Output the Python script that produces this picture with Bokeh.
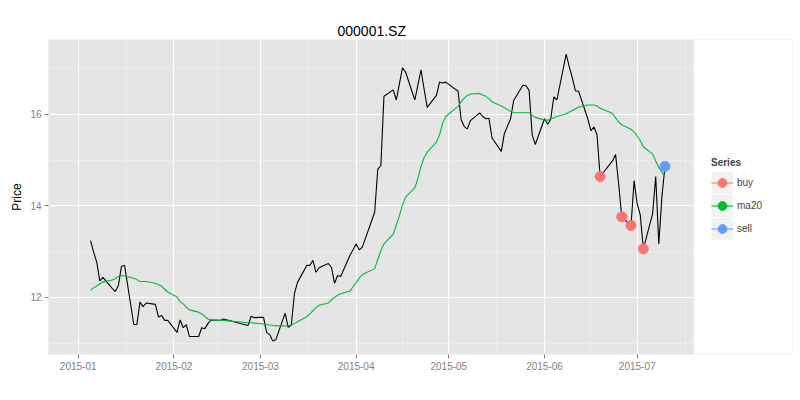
import pandas as pd
from bokeh.plotting import figure
from bokeh.models import (Range1d, FixedTicker, DatetimeTickFormatter, Legend,
                          LegendItem, BoxAnnotation)
from bokeh.embed import file_html
from bokeh.resources import INLINE

FONT = "Liberation Sans"

dates = [
    "2015-01-05", "2015-01-06", "2015-01-07", "2015-01-08", "2015-01-09",
    "2015-01-12", "2015-01-13", "2015-01-14", "2015-01-15", "2015-01-16",
    "2015-01-19", "2015-01-20", "2015-01-21", "2015-01-22", "2015-01-23",
    "2015-01-26", "2015-01-27", "2015-01-28", "2015-01-29", "2015-01-30",
    "2015-02-02", "2015-02-03", "2015-02-04", "2015-02-05", "2015-02-06",
    "2015-02-09", "2015-02-10", "2015-02-11", "2015-02-12", "2015-02-13",
    "2015-02-16", "2015-02-17", "2015-02-25", "2015-02-26", "2015-02-27",
    "2015-03-02", "2015-03-03", "2015-03-04", "2015-03-05", "2015-03-06",
    "2015-03-09", "2015-03-10", "2015-03-11", "2015-03-12", "2015-03-13",
    "2015-03-16", "2015-03-17", "2015-03-18", "2015-03-19", "2015-03-20",
    "2015-03-23", "2015-03-24", "2015-03-25", "2015-03-26", "2015-03-27",
    "2015-03-30", "2015-03-31", "2015-04-01", "2015-04-02", "2015-04-03",
    "2015-04-07", "2015-04-08", "2015-04-09", "2015-04-10",
    "2015-04-13", "2015-04-14", "2015-04-15", "2015-04-16", "2015-04-17",
    "2015-04-20", "2015-04-21", "2015-04-22", "2015-04-23", "2015-04-24",
    "2015-04-27", "2015-04-28", "2015-04-29", "2015-04-30",
    "2015-05-04", "2015-05-05", "2015-05-06", "2015-05-07", "2015-05-08",
    "2015-05-11", "2015-05-12", "2015-05-13", "2015-05-14", "2015-05-15",
    "2015-05-18", "2015-05-19", "2015-05-20", "2015-05-21", "2015-05-22",
    "2015-05-25", "2015-05-26", "2015-05-27", "2015-05-28", "2015-05-29",
    "2015-06-01", "2015-06-02", "2015-06-03", "2015-06-04", "2015-06-05",
    "2015-06-08", "2015-06-09", "2015-06-10", "2015-06-11", "2015-06-12",
    "2015-06-15", "2015-06-16", "2015-06-17", "2015-06-18", "2015-06-19",
    "2015-06-23", "2015-06-24", "2015-06-25", "2015-06-26",
    "2015-06-29", "2015-06-30", "2015-07-01", "2015-07-02", "2015-07-03",
    "2015-07-06", "2015-07-07", "2015-07-08", "2015-07-09", "2015-07-10",
]

close = [
    13.24, 12.99, 12.77, 12.36, 12.44,
    12.20, 12.13, 12.26, 12.68, 12.70,
    11.41, 11.41, 11.90, 11.80, 11.88,
    11.85, 11.57, 11.61, 11.50, 11.50,
    11.24, 11.51, 11.34, 11.41, 11.15,
    11.15, 11.34, 11.32, 11.43, 11.51,
    11.50, 11.53, 11.39, 11.59, 11.56,
    11.57, 11.24, 11.19, 11.05, 11.08,
    11.66, 11.35, 11.40, 12.08, 12.33,
    12.70, 12.70, 12.81, 12.55, 12.65,
    12.74, 12.66, 12.31, 12.48, 12.46,
    12.92, 13.04, 13.17, 13.04, 13.10,
    13.86, 14.80, 14.88, 16.39,
    16.53, 16.31, 16.66, 17.01, 16.92,
    16.31, 16.64, 16.97, 16.55, 16.15,
    16.41, 16.70, 16.68, 16.70,
    16.50, 15.88, 15.73, 15.68, 15.86,
    16.03, 15.95, 15.90, 15.91, 15.48,
    15.19, 15.58, 15.74, 15.90, 16.30,
    16.63, 16.62, 16.52, 15.55, 15.34,
    15.90, 15.78, 15.89, 16.38, 16.31,
    17.31, 17.04, 16.79, 16.51, 16.50,
    15.90, 15.64, 15.72, 15.55, 14.64,
    14.98, 15.12, 14.48, 13.76,
    13.57, 14.55, 14.05, 13.80, 13.06,
    13.83, 14.64, 13.17, 14.20, 14.86,
]

ma20 = [
    12.16, 12.21, 12.25, 12.30, 12.34,
    12.38, 12.41, 12.46, 12.48, 12.47,
    12.42, 12.39, 12.35, 12.35, 12.35,
    12.31, 12.28, 12.25, 12.18, 12.12,
    12.01, 11.91, 11.86, 11.79, 11.73,
    11.68, 11.64, 11.59, 11.53, 11.51,
    11.50, 11.50, 11.45, 11.45, 11.44,
    11.42, 11.41, 11.40, 11.39, 11.38,
    11.38, 11.38, 11.40, 11.43, 11.47,
    11.58, 11.64, 11.71, 11.78, 11.83,
    11.88, 11.95, 12.00, 12.05, 12.08,
    12.14, 12.24, 12.33, 12.42, 12.50,
    12.63, 12.83, 13.02, 13.17,
    13.38, 13.58, 13.78, 14.02, 14.19,
    14.39, 14.60, 14.86, 15.05, 15.17,
    15.39, 15.55, 15.80, 15.95,
    16.17, 16.27, 16.35, 16.41, 16.44,
    16.45, 16.42, 16.39, 16.34, 16.27,
    16.18, 16.14, 16.10, 16.06, 16.03,
    16.03, 16.03, 16.03, 15.98, 15.93,
    15.87, 15.87, 15.90, 15.92, 15.95,
    16.01, 16.05, 16.08, 16.12, 16.15,
    16.20, 16.20, 16.20, 16.18, 16.13,
    16.02, 15.92, 15.83, 15.77,
    15.67, 15.61, 15.52, 15.42, 15.29,
    15.13, 14.98, 14.84, 14.74, 14.64,
]

buy_dates = ["2015-06-19", "2015-06-26", "2015-06-29", "2015-07-03"]
buy_price = [14.64, 13.76, 13.57, 13.06]
sell_dates = ["2015-07-10"]
sell_price = [14.86]

x_tick_dates = ["2015-01-01", "2015-02-01", "2015-03-01", "2015-04-01",
                "2015-05-01", "2015-06-01", "2015-07-01"]
month_starts = ["2014-12-01"] + x_tick_dates + ["2015-08-01"]
y_ticks = [12, 14, 16]
y_minor = [11, 13, 15, 17]

series_labels = ["buy", "ma20", "sell"]
series_colors = ["#F8766D", "#00BA38", "#619CFF"]


def ms(t):
    return pd.Timestamp(t).value / 1e6


x_dt = pd.to_datetime(dates)
buy_dt = pd.to_datetime(buy_dates)
sell_dt = pd.to_datetime(sell_dates)

x_major = [ms(s) for s in x_tick_dates]
ms_all = [ms(s) for s in month_starts]
x_minor = [(a + b) / 2 for a, b in zip(ms_all[:-1], ms_all[1:])]

# panel (grey area) limits, and the frame extended to the right for the legend
x_start = pd.Timestamp("2015-01-01") - pd.Timedelta(days=9.62)
x_panel_end = pd.Timestamp("2015-07-01") + pd.Timedelta(days=18.33)
x_frame_end = pd.Timestamp("2015-07-01") + pd.Timedelta(days=50.29)

p = figure(width=800, height=400, x_axis_type="datetime",
           x_range=Range1d(x_start, x_frame_end), y_range=Range1d(10.756, 17.63),
           output_backend="svg", toolbar_location=None,
           min_border_left=48, min_border_right=8,
           min_border_top=39, min_border_bottom=46,
           background_fill_color="#E5E5E5", border_fill_color="white",
           title="000001.SZ")
p.outline_line_color = None

p.title.align = "left"
p.title.offset = 289
p.title.text_font = FONT
p.title.text_font_size = "14px"
p.title.text_font_style = "normal"
p.title.text_color = "black"
p.title.standoff = 1

xt = FixedTicker(ticks=x_major, minor_ticks=x_minor)
yt = FixedTicker(ticks=y_ticks, minor_ticks=y_minor)
p.xaxis.ticker = xt
p.yaxis.ticker = yt
p.xgrid.ticker = xt
p.ygrid.ticker = yt
fmt = "%Y-%m"
p.xaxis.formatter = DatetimeTickFormatter(
    microseconds=fmt, milliseconds=fmt, seconds=fmt, minsec=fmt, minutes=fmt,
    hourmin=fmt, hours=fmt, days=fmt, months=fmt, years=fmt,
    strip_leading_zeros=False)

for g in (p.xgrid, p.ygrid):
    g.grid_line_color = "white"
    g.grid_line_width = 1.1
    g.minor_grid_line_color = "#F2F2F2"
    g.minor_grid_line_width = 0.6

for ax in (p.xaxis, p.yaxis):
    ax.axis_line_color = None
    ax.major_tick_line_color = "#7F7F7F"
    ax.major_tick_in = 0
    ax.major_tick_out = 4
    ax.minor_tick_line_color = None
    ax.major_label_text_font = FONT
    ax.major_label_text_font_size = "10px"
    ax.major_label_text_color = "#7F7F7F"
    ax.major_label_standoff = 3

p.yaxis.axis_label = "Price"
p.yaxis.axis_label_text_font = FONT
p.yaxis.axis_label_text_font_size = "12px"
p.yaxis.axis_label_text_font_style = "normal"
p.yaxis.axis_label_text_color = "black"
p.yaxis.axis_label_standoff = 3

# white area to the right of the grey panel, where the legend sits
p.add_layout(BoxAnnotation(left=ms(x_panel_end), fill_color="white", fill_alpha=1.0,
                           line_color=None, level="underlay"))

# data
p.line(x_dt, close, line_color="black", line_width=1.1)
ma_line = p.line(x_dt, ma20, line_color=series_colors[1], line_width=1.1)
buy_pts = p.scatter(buy_dt, buy_price, size=10, fill_color=series_colors[0],
                    line_color=series_colors[0])
sell_pts = p.scatter(sell_dt, sell_price, size=10, fill_color=series_colors[2],
                     line_color=series_colors[2])

# legend-only helpers: one NaN point each, so nothing shows in the plot area
nan_x = [x_dt[0]]
nan_y = [float("nan")]
key_bg = p.line(x=nan_x, y=nan_y, line_color="#F2F2F2", line_width=22)
buy_key_line = p.line(x=nan_x, y=nan_y, line_color=series_colors[0], line_width=1.1)
ma_key_pt = p.scatter(x=nan_x, y=nan_y, size=10, fill_color=series_colors[1],
                      line_color=series_colors[1])
sell_key_line = p.line(x=nan_x, y=nan_y, line_color=series_colors[2], line_width=1.1)

items = [
    LegendItem(label=series_labels[0], renderers=[key_bg, buy_key_line, buy_pts]),
    LegendItem(label=series_labels[1], renderers=[key_bg, ma_line, ma_key_pt]),
    LegendItem(label=series_labels[2], renderers=[key_bg, sell_key_line, sell_pts]),
]
legend = Legend(items=items, title="Series", location=(663, 114),
                title_text_font=FONT, title_text_font_size="10px",
                title_text_font_style="bold", title_standoff=3,
                label_text_font=FONT, label_text_font_size="10px",
                glyph_width=22, glyph_height=23, label_height=23,
                spacing=0, label_standoff=4, padding=10, margin=0,
                border_line_color=None, background_fill_color="white")
p.add_layout(legend)

open("out.html", "w").write(file_html(p, INLINE))
